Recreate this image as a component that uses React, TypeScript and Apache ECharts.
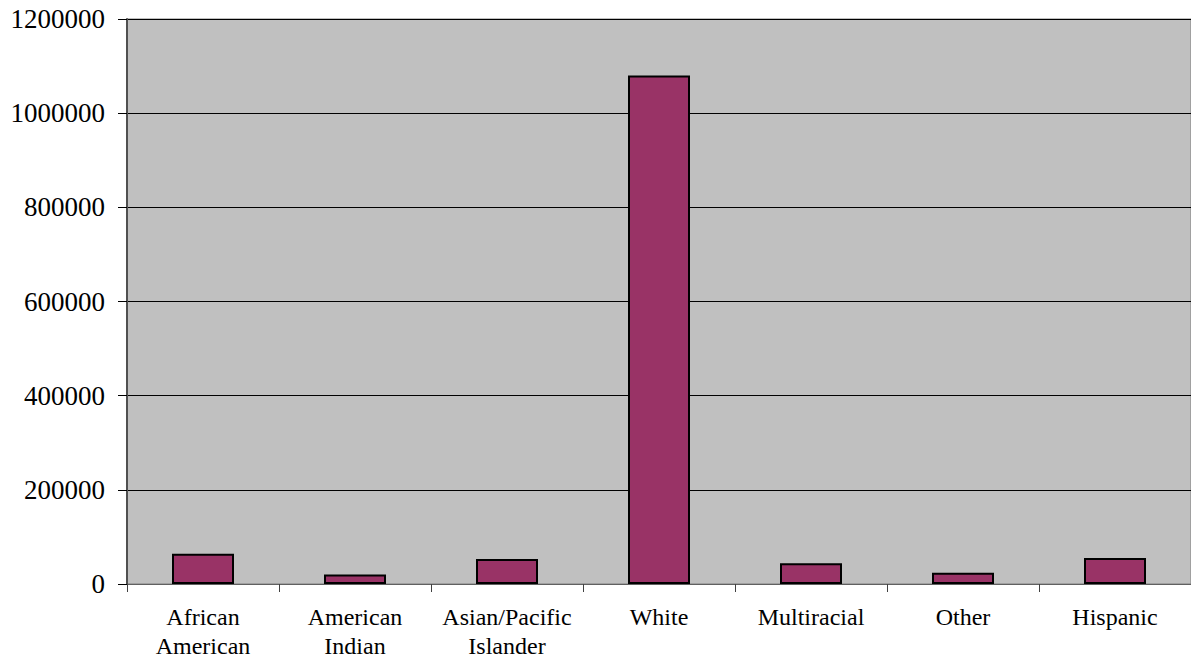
import React, { useEffect, useRef } from "react";
import * as echarts from "echarts";

const categories = [
  "African\nAmerican",
  "American\nIndian",
  "Asian/Pacific\nIslander",
  "White",
  "Multiracial",
  "Other",
  "Hispanic",
];
const values = [64000, 20000, 53000, 1080000, 44000, 24000, 55000];
const yMin = 0;
const yMax = 1200000;
const yInterval = 200000;

const FONT = "'Liberation Serif', 'Times New Roman', serif";

export default function App() {
  const ref = useRef<HTMLDivElement>(null);
  useEffect(() => {
    if (!ref.current) return;
    const chart = echarts.init(ref.current, undefined, { renderer: "svg" });
    chart.setOption({
      animation: false,
      backgroundColor: "#ffffff",
      textStyle: { fontFamily: FONT },
      grid: {
        left: 127,
        top: 19,
        right: 0,
        bottom: 77,
        outerBoundsMode: "none",
        containLabel: false,
        show: true,
        backgroundColor: "#C0C0C0",
        borderColor: "#808080",
        borderWidth: 1,
      },
      xAxis: {
        type: "category",
        data: categories,
        boundaryGap: true,
        axisLine: { show: true, lineStyle: { color: "#606060", width: 1 } },
        axisTick: { show: true, length: 8, alignWithLabel: false, lineStyle: { color: "#404040" } },
        axisLabel: {
          color: "#000",
          fontSize: 24,
          fontFamily: FONT,
          lineHeight: 29,
          margin: 18,
          interval: 0,
        },
      },
      yAxis: {
        type: "value",
        min: yMin,
        max: yMax,
        interval: yInterval,
        axisLine: { show: true, lineStyle: { color: "#505050", width: 2 } },
        axisTick: { show: true, length: 9, lineStyle: { color: "#000" } },
        axisLabel: {
          color: "#000",
          fontSize: 27,
          fontFamily: FONT,
          margin: 22,
          formatter: (v: number) => String(v),
        },
        splitLine: { show: true, lineStyle: { color: "#000", width: 1 } },
      },
      series: [
        {
          type: "bar",
          data: values,
          barWidth: 62,
          itemStyle: { color: "#993366", borderColor: "#000", borderWidth: 2 },
        },
      ],
    });
    return () => chart.dispose();
  }, []);
  return (
    <div
      ref={ref}
      style={{ position: "fixed", left: 0, top: 0, width: 1191, height: 661 }}
    />
  );
}
